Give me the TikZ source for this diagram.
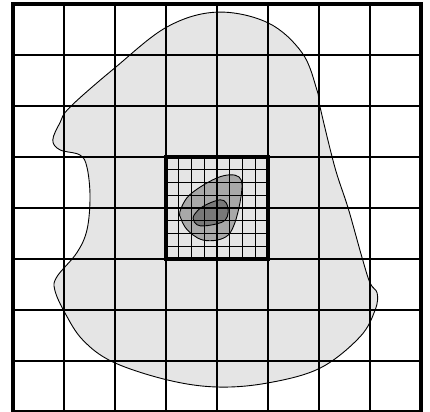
\documentclass[tikz,border=0pt]{standalone}
\usepackage{tikz}
\definecolor{blobpale}{gray}{0.90}
\definecolor{blobmid}{gray}{0.66}
\definecolor{blobdark}{gray}{0.47}

\begin{document}
\begin{tikzpicture}[
    x=1cm, y=1cm,
    blob/.style={draw=black, line width=0.5pt, smooth cycle, tension=0.6},
    coarse/.style={line width=0.8pt},
    fine/.style={line width=0.75pt},
    frame/.style={line width=1.9pt}]
  \useasboundingbox (-0.255,0) rectangle (8.176,8.078);
  % region and its nested sub-regions
  \draw[blob, fill=blobpale] plot coordinates {
    (4.0,7.84) (5.0,7.63) (5.67,7.04) (5.96,6.31) (6.02,5.98) (6.31,4.80)
    (6.57,4.0) (6.84,3.04) (7.0,2.53) (7.14,2.33) (7.10,2.0) (6.80,1.47)
    (6.02,0.86) (5.0,0.57) (4.0,0.49) (3.02,0.63) (1.96,0.98) (1.37,1.41)
    (1.02,1.94) (0.82,2.39) (0.86,2.65) (1.25,3.12) (1.45,3.57) (1.51,4.22)
    (1.45,4.80) (1.31,5.04) (0.92,5.14) (0.78,5.33) (0.92,5.67) (1.12,5.98)
    (2.0,6.75) (3.02,7.55)};
  \draw[blob, fill=blobmid] plot coordinates {
    (3.27,3.92) (3.41,4.20) (3.67,4.41) (4.0,4.59) (4.25,4.65) (4.43,4.61)
    (4.49,4.45) (4.45,4.10) (4.35,3.71) (4.22,3.47) (4.0,3.37) (3.73,3.37)
    (3.53,3.47) (3.37,3.63) (3.29,3.80)};
  \draw[blob, fill=blobdark] plot coordinates {
    (3.53,3.80) (3.63,3.96) (3.82,4.08) (4.06,4.16) (4.18,4.10) (4.22,3.92)
    (4.16,3.76) (4.0,3.69) (3.76,3.65) (3.61,3.67)};
  % coarse grid
  \foreach \i in {1,...,7} {
    \draw[coarse] (\i,0) -- (\i,8);
    \draw[coarse] (0,\i) -- (8,\i);
  }
  % refined block
  \foreach \j in {1,...,7} {
    \draw[fine] (3+\j/4,3) -- (3+\j/4,5);
    \draw[fine] (3,3+\j/4) -- (5,3+\j/4);
  }
  \draw[frame] (3,3) rectangle (5,5);
  \draw[frame] (0,0) rectangle (8,8);
\end{tikzpicture}
\end{document}
